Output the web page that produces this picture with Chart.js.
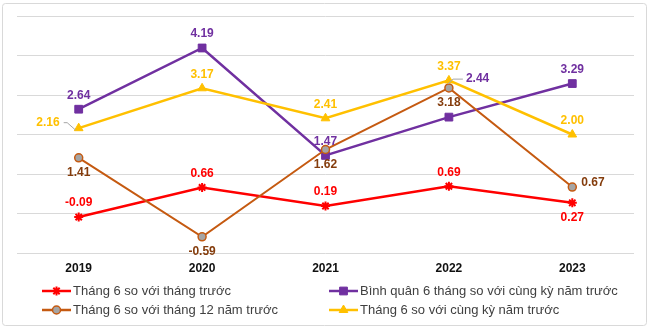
<!DOCTYPE html>
<html><head><meta charset="utf-8">
<script src="https://cdn.jsdelivr.net/npm/chart.js@4/dist/chart.umd.min.js"></script>
<style>html,body{margin:0;padding:0;background:#fff}#wrap{width:650px;height:330px;position:relative}</style>
</head><body><div id="wrap"><canvas id="c" width="650" height="330"></canvas></div>
<script>
const years = ['2019', '2020', '2021', '2022', '2023'];
const monthOnMonth = [-0.09, 0.66, 0.19, 0.69, 0.27];
const avgSixMonths = [2.64, 4.19, 1.47, 2.44, 3.29];
const vsDecPrevYear = [1.41, -0.59, 1.62, 3.18, 0.67];
const yearOnYear = [2.16, 3.17, 2.41, 3.37, 2.00];
const seriesNames = [
  'Tháng 6 so với tháng trước',
  'Bình quân 6 tháng so với cùng kỳ năm trước',
  'Tháng 6 so với tháng 12 năm trước',
  'Tháng 6 so với cùng kỳ năm trước'
];
const yMin = -1, yMax = 5, yStep = 1;

const FONT = '"Liberation Sans", Arial, sans-serif';

const datasets = [
  { label: seriesNames[0], data: monthOnMonth, borderColor: '#FF0000', backgroundColor: '#FF0000', borderWidth: 2.5,
    pointStyle: 'star', pointRadius: 4.5, pointBorderWidth: 2, pointBorderColor: '#FF0000', order: 3,
    labelColor: '#FF0000', labelPos: ['above','above','above','above','below'] },
  { label: seriesNames[1], data: avgSixMonths, borderColor: '#7030A0', backgroundColor: '#7030A0', borderWidth: 2.5,
    pointStyle: 'rect', pointRadius: 5.5, pointBorderWidth: 1, pointBorderColor: '#7030A0', order: 2,
    labelColor: '#7030A0', labelPos: ['above','above','above','leaderUp','above'] },
  { label: seriesNames[2], data: vsDecPrevYear, borderColor: '#C55A11', backgroundColor: '#A5A5A5', borderWidth: 2,
    pointStyle: 'circle', pointRadius: 4, pointBorderWidth: 1.5, pointBorderColor: '#C55A11', order: 1,
    labelColor: '#843C0C', labelPos: ['below','below','below','below','right'] },
  { label: seriesNames[3], data: yearOnYear, borderColor: '#FFC000', backgroundColor: '#FFC000', borderWidth: 2.5,
    pointStyle: 'triangle', pointRadius: 5, pointBorderWidth: 1, pointBorderColor: '#FFC000', order: 0,
    labelColor: '#FFC000', labelPos: ['leaderLeft','above','above','above','above'] }
];
datasets.forEach(d => { d.pointBackgroundColor = d.backgroundColor; d.tension = 0; d.fill = false; });

const framePlugin = {
  id: 'frame',
  beforeDraw(chart) {
    const ctx = chart.ctx;
    ctx.save();
    ctx.fillStyle = '#fff';
    ctx.fillRect(0, 0, chart.width, chart.height);
    ctx.strokeStyle = '#D9D9D9';
    ctx.lineWidth = 1;
    ctx.beginPath();
    if (ctx.roundRect) ctx.roundRect(2.5, 3.5, 644, 322, 3); else ctx.rect(2.5, 3.5, 644, 322);
    ctx.stroke();
    ctx.restore();
  }
};

const labelPlugin = {
  id: 'pointLabels',
  afterDatasetsDraw(chart) {
    const ctx = chart.ctx;
    ctx.save();
    ctx.font = 'bold 12px ' + FONT;
    chart.data.datasets.forEach((ds, i) => {
      const meta = chart.getDatasetMeta(i);
      meta.data.forEach((pt, j) => {
        const x = pt.x, y = pt.y;
        const txt = ds.data[j].toFixed(2);
        const pos = ds.labelPos[j];
        ctx.fillStyle = ds.labelColor;
        ctx.textBaseline = 'middle';
        ctx.strokeStyle = '#A6A6A6';
        ctx.lineWidth = 1;
        if (pos === 'above') {
          ctx.textAlign = 'center'; ctx.fillText(txt, x, y - 14);
        } else if (pos === 'below') {
          ctx.textAlign = 'center'; ctx.fillText(txt, x, y + 15);
        } else if (pos === 'right') {
          ctx.textAlign = 'left'; ctx.fillText(txt, x + 9, y - 4.5);
        } else if (pos === 'leaderUp') {
          ctx.beginPath();
          ctx.moveTo(x - 1, y - 33); ctx.lineTo(x + 4, y - 38); ctx.lineTo(x + 14, y - 38);
          ctx.stroke();
          ctx.textAlign = 'left'; ctx.fillText(txt, x + 17, y - 38);
        } else if (pos === 'leaderLeft') {
          ctx.beginPath();
          ctx.moveTo(x - 15, y - 5.5); ctx.lineTo(x - 11.5, y - 5.5); ctx.lineTo(x - 3, y + 2);
          ctx.stroke();
          ctx.textAlign = 'right'; ctx.fillText(txt, x - 19, y - 5);
        }
      });
    });
    ctx.restore();
  }
};

const legendPlugin = {
  id: 'customLegend',
  afterDraw(chart) {
    const ctx = chart.ctx;
    const slots = [[42, 291], [329, 291], [42, 310], [329, 310]];
    ctx.save();
    chart.data.datasets.forEach((ds, i) => {
      const [x, y] = slots[i];
      ctx.strokeStyle = ds.borderColor;
      ctx.lineWidth = 2.5;
      ctx.beginPath(); ctx.moveTo(x, y); ctx.lineTo(x + 29, y); ctx.stroke();
      ctx.fillStyle = ds.pointBackgroundColor;
      ctx.strokeStyle = ds.pointBorderColor;
      ctx.lineWidth = ds.pointBorderWidth;
      Chart.helpers.drawPoint(ctx, { pointStyle: ds.pointStyle, radius: ds.pointRadius, borderWidth: ds.pointBorderWidth, rotation: 0 }, x + 14.5, y);
      ctx.fillStyle = '#404040';
      ctx.font = '13px ' + FONT;
      ctx.textAlign = 'left';
      ctx.textBaseline = 'middle';
      ctx.fillText(ds.label, x + 31, y);
    });
    ctx.restore();
  }
};

new Chart(document.getElementById('c'), {
  type: 'line',
  data: { labels: years, datasets: datasets },
  options: {
    responsive: false,
    animation: false,
    devicePixelRatio: 1,
    layout: { padding: { left: 17, right: 16, top: 16, bottom: 0 } },
    plugins: { legend: { display: false }, tooltip: { enabled: false } },
    scales: {
      x: {
        offset: true,
        grid: { display: false, drawTicks: false, offset: true },
        border: { display: false },
        ticks: { color: '#111', font: { family: FONT, size: 12, weight: 'bold' }, padding: 8 },
        afterFit(s) { s.height = 77; }
      },
      y: {
        min: yMin, max: yMax,
        ticks: { display: false, stepSize: yStep },
        grid: { color: '#D9D9D9', lineWidth: 1, drawTicks: false },
        border: { display: false },
        afterFit(s) { s.width = 0; }
      }
    }
  },
  plugins: [framePlugin, labelPlugin, legendPlugin]
});
</script>
</body></html>
